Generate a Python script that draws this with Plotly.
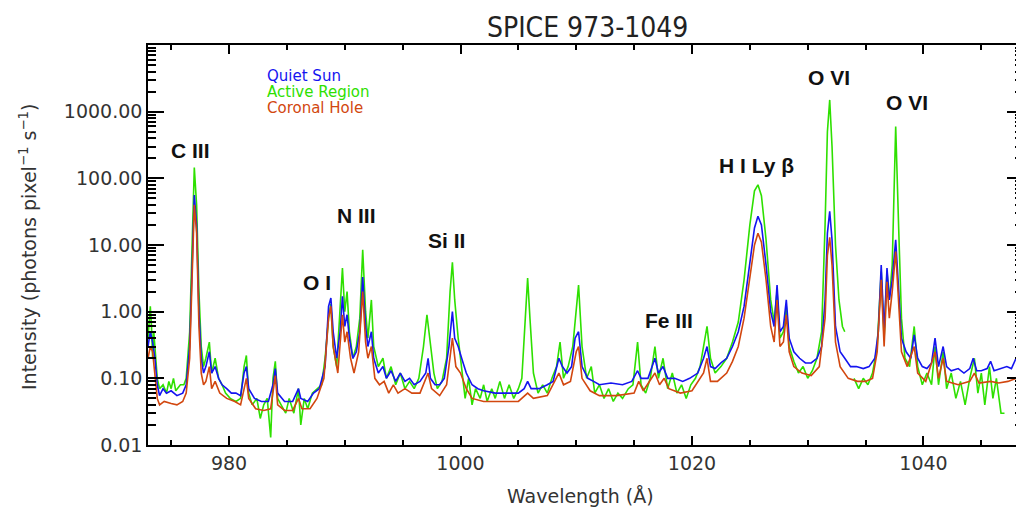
import plotly.graph_objects as go
import math

# ---------------- data ----------------
qs_wave = [973.0, 973.2, 973.4, 973.6, 973.8, 974.0, 974.3, 974.6, 975.0, 975.5, 976.0, 976.3, 976.6, 976.8, 977.0, 977.2, 977.4, 977.6, 977.8, 978.0,
           978.3, 978.5, 978.8, 979.1, 979.4, 979.8, 980.2, 980.6, 981.0, 981.3, 981.5, 981.7, 982.2, 982.8, 983.4, 983.8, 984.0, 984.2, 984.8, 985.5,
           986.0, 986.2, 986.8, 987.3, 987.8, 988.3, 988.6, 988.8, 989.0, 989.3, 989.6, 989.8, 990.0, 990.2, 990.4, 990.7, 991.0, 991.3, 991.55, 991.8,
           992.0, 992.3, 992.5, 992.9, 993.3, 993.6, 994.0, 994.4, 994.8, 995.2, 995.6, 996.0, 996.5, 997.0, 997.2, 997.4, 997.8, 998.2, 998.6, 999.0,
           999.3, 999.5, 999.8, 1000.1, 1000.5, 1001.0, 1001.5, 1002.0, 1003.0, 1004.0, 1005.0, 1005.5, 1005.8, 1006.1, 1006.8, 1007.5, 1008.0, 1008.5, 1008.8, 1009.2,
           1009.6, 1009.9, 1010.2, 1010.5, 1011.0, 1011.5, 1012.0, 1013.0, 1014.0, 1014.8, 1015.3, 1015.6, 1016.2, 1016.8, 1017.1, 1017.5, 1017.9, 1018.5, 1019.2, 1019.8,
           1020.5, 1021.0, 1021.3, 1021.6, 1022.0, 1022.5, 1023.0, 1023.5, 1024.0, 1024.5, 1025.0, 1025.4, 1025.7, 1026.0, 1026.4, 1026.8, 1027.1, 1027.35, 1027.6, 1027.9,
           1028.15, 1028.4, 1028.8, 1029.3, 1029.8, 1030.3, 1030.8, 1031.2, 1031.5, 1031.7, 1031.9, 1032.1, 1032.4, 1032.8, 1033.2, 1033.7, 1034.2, 1034.8, 1035.3, 1035.8,
           1036.1, 1036.35, 1036.6, 1036.85, 1037.05, 1037.3, 1037.6, 1037.85, 1038.1, 1038.5, 1038.9, 1039.2, 1039.5, 1039.9, 1040.3, 1040.7, 1041.0, 1041.3, 1041.7, 1042.0,
           1042.4, 1043.0, 1043.5, 1044.0, 1044.3, 1044.6, 1045.0, 1045.5, 1045.8, 1046.1, 1046.6, 1047.2, 1047.6, 1048.0, 1048.3, 1048.6]
qs_int = [0.30, 0.50, 0.35, 0.20, 0.08, 0.055, 0.07, 0.06, 0.065, 0.055, 0.06, 0.08, 0.3, 5, 56, 20, 1.0, 0.2, 0.12, 0.15,
          0.25, 0.12, 0.15, 0.10, 0.08, 0.07, 0.06, 0.06, 0.055, 0.12, 0.15, 0.07, 0.05, 0.045, 0.045, 0.08, 0.14, 0.06, 0.045, 0.045,
          0.07, 0.05, 0.045, 0.06, 0.07, 0.15, 1.2, 1.6, 0.5, 0.2, 0.5, 1.7, 0.6, 0.9, 0.4, 0.2, 0.25, 0.5, 3.3, 0.6,
          0.3, 0.5, 0.2, 0.12, 0.15, 0.1, 0.13, 0.09, 0.12, 0.09, 0.1, 0.08, 0.09, 0.12, 0.2, 0.1, 0.08, 0.08, 0.1, 0.3,
          1.0, 0.4, 0.3, 0.2, 0.12, 0.08, 0.07, 0.065, 0.06, 0.06, 0.06, 0.07, 0.09, 0.07, 0.07, 0.08, 0.09, 0.2, 0.15, 0.12,
          0.15, 0.4, 0.5, 0.15, 0.1, 0.09, 0.08, 0.085, 0.08, 0.09, 0.13, 0.1, 0.1, 0.2, 0.12, 0.15, 0.1, 0.1, 0.09, 0.1,
          0.12, 0.2, 0.3, 0.15, 0.14, 0.17, 0.2, 0.3, 0.5, 1.2, 5, 18, 27, 20, 5, 1.0, 0.6, 2.5, 0.5, 0.6,
          1.5, 0.4, 0.25, 0.2, 0.17, 0.17, 0.2, 0.3, 1.5, 15, 32, 12, 0.6, 0.25, 0.2, 0.15, 0.15, 0.14, 0.15, 0.2,
          0.5, 5, 0.5, 4.5, 1.5, 3, 12, 2, 0.4, 0.25, 0.2, 0.45, 0.2, 0.15, 0.14, 0.17, 0.4, 0.15, 0.3, 0.15,
          0.13, 0.14, 0.12, 0.14, 0.2, 0.13, 0.13, 0.14, 0.18, 0.13, 0.14, 0.15, 0.14, 0.2, 0.15, 0.15]

ar_wave = [973.0, 973.2, 973.3, 973.4, 973.5, 973.6, 973.8, 974.0, 974.3, 974.6, 974.8, 975.0, 975.2, 975.4, 975.8, 976.1, 976.3, 976.6, 976.8, 977.0,
           977.2, 977.4, 977.6, 977.8, 978.0, 978.3, 978.5, 978.8, 979.1, 979.4, 979.7, 980.1, 980.6, 981.0, 981.3, 981.5, 981.7, 982.0, 982.4, 982.7,
           983.0, 983.3, 983.6, 983.8, 984.0, 984.2, 984.5, 984.9, 985.2, 985.6, 986.0, 986.2, 986.5, 986.8, 987.2, 987.6, 988.0, 988.3, 988.6, 988.8,
           989.0, 989.3, 989.6, 989.8, 990.0, 990.2, 990.4, 990.7, 991.0, 991.3, 991.55, 991.8, 992.0, 992.3, 992.5, 992.9, 993.3, 993.6, 994.0, 994.4,
           994.8, 995.2, 995.6, 996.0, 996.4, 996.8, 997.1, 997.4, 997.7, 998.0, 998.4, 998.8, 999.1, 999.3, 999.5, 999.8, 1000.1, 1000.4, 1000.7, 1001.0,
           1001.3, 1001.7, 1002.0, 1002.3, 1002.7, 1003.0, 1003.4, 1003.8, 1004.2, 1004.6, 1005.0, 1005.3, 1005.6, 1005.8, 1006.0, 1006.3, 1006.7, 1007.1, 1007.5, 1007.9,
           1008.3, 1008.6, 1008.9, 1009.3, 1009.7, 1010.0, 1010.2, 1010.5, 1010.9, 1011.3, 1011.6, 1012.0, 1012.4, 1012.8, 1013.2, 1013.6, 1014.0, 1014.5, 1014.9, 1015.3,
           1015.6, 1016.0, 1016.4, 1016.8, 1017.1, 1017.5, 1017.9, 1018.3, 1018.7, 1019.1, 1019.5, 1019.9, 1020.3, 1020.7, 1021.0, 1021.3, 1021.6, 1022.0, 1022.5, 1023.0,
           1023.5, 1024.0, 1024.5, 1025.0, 1025.4, 1025.7, 1026.0, 1026.4, 1026.8, 1027.1, 1027.35, 1027.6, 1027.9, 1028.15, 1028.4, 1028.8, 1029.2, 1029.6, 1030.0, 1030.4,
           1030.8, 1031.2, 1031.5, 1031.7, 1031.9, 1032.1, 1032.4, 1032.7, 1033.0, 1033.2, 1033.6, 1034.0, 1034.4, 1034.8, 1035.2, 1035.6, 1036.0, 1036.35, 1036.6, 1036.85,
           1037.05, 1037.3, 1037.6, 1037.85, 1038.1, 1038.4, 1038.8, 1039.2, 1039.5, 1039.9, 1040.3, 1040.7, 1041.0, 1041.3, 1041.7, 1042.0, 1042.4, 1042.8, 1043.2, 1043.6,
           1044.0, 1044.4, 1044.7, 1045.0, 1045.3, 1045.7, 1046.0, 1046.3, 1046.7, 1047.0]
ar_int = [0.4, 1.2, 0.6, 0.2, 0.5, 0.3, 0.1, 0.07, 0.08, 0.06, 0.09, 0.07, 0.1, 0.065, 0.08, 0.08, 0.1, 0.5, 10, 145,
          40, 2, 0.3, 0.15, 0.2, 0.35, 0.12, 0.2, 0.1, 0.08, 0.06, 0.05, 0.045, 0.05, 0.15, 0.22, 0.06, 0.04, 0.05, 0.025,
          0.04, 0.05, 0.013, 0.1, 0.18, 0.05, 0.04, 0.03, 0.05, 0.03, 0.07, 0.02, 0.05, 0.035, 0.06, 0.07, 0.08, 0.2, 0.8, 1.3,
          0.3, 0.15, 1.0, 4.5, 1.0, 2.0, 0.5, 0.2, 0.3, 0.8, 8.5, 1.0, 0.4, 1.5, 0.3, 0.15, 0.2, 0.1, 0.15, 0.08,
          0.12, 0.07, 0.09, 0.07, 0.1, 0.3, 0.9, 0.3, 0.12, 0.07, 0.09, 0.2, 2, 5.5, 1.5, 0.4, 0.15, 0.05, 0.1, 0.04,
          0.07, 0.05, 0.08, 0.045, 0.07, 0.05, 0.09, 0.05, 0.08, 0.05, 0.07, 0.1, 0.8, 3.2, 0.8, 0.12, 0.06, 0.08, 0.06, 0.1,
          0.15, 0.35, 0.1, 0.15, 0.3, 1.0, 2.5, 0.3, 0.1, 0.15, 0.06, 0.08, 0.05, 0.07, 0.045, 0.06, 0.05, 0.07, 0.08, 0.35,
          0.08, 0.06, 0.1, 0.3, 0.1, 0.2, 0.07, 0.12, 0.06, 0.08, 0.05, 0.08, 0.1, 0.15, 0.3, 0.6, 0.2, 0.12, 0.15, 0.2,
          0.35, 0.7, 3, 20, 65, 80, 55, 12, 1.5, 0.7, 2, 0.4, 0.5, 1.2, 0.3, 0.18, 0.12, 0.15, 0.1, 0.13,
          0.2, 0.5, 20, 500, 1500, 300, 10, 1.5, 0.6, 0.5, None, 0.1, 0.07, 0.1, 0.08, 0.12, 0.3, 4, 0.4, 4,
          1.5, 5, 600, 20, 0.8, 0.2, 0.15, 0.6, 0.15, 0.08, 0.12, 0.08, 0.3, 0.08, 0.25, 0.07, 0.12, 0.05, 0.09, 0.04,
          0.1, 0.2, 0.06, 0.12, 0.04, 0.15, 0.05, 0.1, 0.03, 0.03]

ch_wave = [973.0, 973.2, 973.4, 973.6, 973.8, 974.0, 974.4, 975.0, 975.5, 976.0, 976.3, 976.6, 976.8, 977.0, 977.2, 977.4, 977.6, 977.8, 978.0, 978.3,
           978.5, 978.8, 979.2, 979.8, 980.5, 981.0, 981.5, 981.7, 982.3, 983.0, 983.6, 984.0, 984.2, 984.8, 985.5, 986.0, 986.3, 987.0, 987.6, 988.2,
           988.6, 988.8, 989.0, 989.4, 989.8, 990.0, 990.2, 990.5, 990.8, 991.2, 991.55, 991.8, 992.0, 992.3, 992.6, 993.0, 993.4, 993.8, 994.2, 994.6,
           995.2, 995.8, 996.5, 997.2, 997.5, 998.2, 998.8, 999.3, 999.6, 1000.0, 1000.5, 1001.0, 1002.0, 1003.0, 1004.0, 1005.0, 1005.8, 1006.3, 1007.5, 1008.5,
           1008.9, 1009.5, 1010.0, 1010.2, 1010.5, 1011.2, 1012.0, 1013.5, 1015.0, 1015.4, 1015.8, 1016.8, 1017.2, 1017.6, 1018.0, 1019.0, 1020.0, 1021.0, 1021.3, 1021.6,
           1022.2, 1023.0, 1023.5, 1024.0, 1024.5, 1025.0, 1025.4, 1025.7, 1026.0, 1026.4, 1026.8, 1027.1, 1027.35, 1027.6, 1027.9, 1028.15, 1028.4, 1028.8, 1029.5, 1030.3,
           1031.0, 1031.5, 1031.7, 1031.9, 1032.1, 1032.4, 1032.8, 1033.5, 1034.3, 1035.0, 1035.6, 1036.0, 1036.35, 1036.6, 1036.85, 1037.05, 1037.3, 1037.6, 1037.85, 1038.1,
           1038.6, 1039.2, 1039.5, 1040.2, 1041.0, 1041.3, 1041.7, 1042.0, 1043.0, 1044.0, 1044.4, 1044.8, 1045.8, 1046.5, 1047.3, 1048.0, 1048.6]
ch_int = [0.20, 0.30, 0.25, 0.12, 0.05, 0.04, 0.045, 0.042, 0.04, 0.045, 0.06, 0.2, 3, 40, 15, 0.6, 0.12, 0.08, 0.09, 0.15,
          0.07, 0.09, 0.06, 0.05, 0.045, 0.04, 0.1, 0.05, 0.035, 0.033, 0.035, 0.11, 0.04, 0.033, 0.033, 0.05, 0.035, 0.035, 0.05, 0.1,
          0.8, 1.2, 0.3, 0.12, 0.9, 0.35, 0.5, 0.2, 0.12, 0.25, 2.0, 0.35, 0.2, 0.3, 0.1, 0.08, 0.09, 0.06, 0.08, 0.06,
          0.07, 0.06, 0.06, 0.12, 0.07, 0.055, 0.08, 0.4, 0.15, 0.12, 0.07, 0.05, 0.045, 0.045, 0.045, 0.045, 0.06, 0.05, 0.055, 0.12,
          0.08, 0.09, 0.25, 0.3, 0.1, 0.065, 0.055, 0.055, 0.06, 0.09, 0.065, 0.12, 0.08, 0.1, 0.07, 0.06, 0.065, 0.12, 0.2, 0.09,
          0.09, 0.12, 0.18, 0.3, 0.8, 3, 10, 15, 11, 3, 0.6, 0.35, 1.5, 0.3, 0.35, 0.9, 0.25, 0.15, 0.12, 0.11,
          0.15, 0.8, 7, 13, 5, 0.35, 0.15, 0.1, 0.09, 0.09, 0.1, 0.25, 3, 0.3, 2.8, 0.8, 2, 8, 1.2, 0.25,
          0.15, 0.3, 0.12, 0.09, 0.25, 0.1, 0.2, 0.09, 0.08, 0.09, 0.12, 0.085, 0.09, 0.085, 0.09, 0.1, 0.1]

y_tick_vals = [0.01, 0.1, 1, 10, 100, 1000]
y_tick_text = ["0.01", "0.10", "1.00", "10.00", "100.00", "1000.00"]
x_tick_vals = [980, 1000, 1020, 1040]

line_labels = ["C III", "O I", "N III", "Si II", "Fe III", "H I Ly β", "O VI", "O VI"]
label_wave = [976.63, 987.6, 991.0, 998.75, 1018.0, 1025.6, 1031.8, 1038.6]
label_int = [266, 2.7, 28, 11.5, 0.75, 158, 3300, 1350]

series_names = ["Quiet Sun", "Active Region", "Coronal Hole"]
series_colors = ["#1414f0", "#2ee000", "#d2470f"]
chart_title = "SPICE 973-1049"
x_title = "Wavelength (Å)"
y_title = "Intensity (photons pixel<sup>−1</sup> s<sup>−1</sup>)"

# ---------------- figure ----------------
# The page body has an 8 px margin, so the figure is sized to the visible area.
W, H = 1016, 501
ML, MR, MT, MB = 140, 1, 37, 64
pw = W - ML - MR
ph = H - MT - MB

fig = go.Figure()
fig.add_trace(go.Scatter(x=ar_wave, y=ar_int, mode="lines", name=series_names[1],
                         line=dict(color=series_colors[1], width=1.6), connectgaps=False))
fig.add_trace(go.Scatter(x=qs_wave, y=qs_int, mode="lines", name=series_names[0],
                         line=dict(color=series_colors[0], width=1.6)))
fig.add_trace(go.Scatter(x=ch_wave, y=ch_int, mode="lines", name=series_names[2],
                         line=dict(color=series_colors[2], width=1.6)))

minor_y = [m * 10 ** e for e in range(-2, 4) for m in range(2, 10)]
minor_x = [v for v in range(975, 1049, 5) if v not in x_tick_vals]

tickfont = dict(family="DejaVu Sans", size=19, color="#333333")

fig.update_xaxes(range=[973, 1048.6], showgrid=False, zeroline=False, automargin=False,
                 showline=True, linecolor="black", linewidth=1.5, mirror="ticks",
                 ticks="inside", ticklen=9, tickwidth=1.5, tickcolor="black",
                 tickmode="array", tickvals=x_tick_vals, ticktext=[str(v) for v in x_tick_vals],
                 tickfont=tickfont,
                 minor=dict(tickmode="array", tickvals=minor_x, ticks="inside", ticklen=5,
                            tickwidth=1.5, tickcolor="black"))
fig.update_yaxes(type="log", range=[-2, 4], showgrid=False, zeroline=False, automargin=False,
                 showline=True, linecolor="black", linewidth=1.5, mirror="ticks",
                 ticks="inside", ticklen=16, tickwidth=1.5, tickcolor="black",
                 tickmode="array", tickvals=y_tick_vals, ticktext=y_tick_text,
                 tickfont=tickfont,
                 minor=dict(tickmode="array", tickvals=minor_y, ticks="inside", ticklen=8,
                            tickwidth=1.5, tickcolor="black"))

for txt, wv, iv in zip(line_labels, label_wave, label_int):
    fig.add_annotation(x=wv, y=math.log10(iv), xref="x", yref="y", text="<b>%s</b>" % txt,
                       showarrow=False, font=dict(family="Liberation Sans", size=21, color="#111111"))

for i, (nm, col) in enumerate(zip(series_names, series_colors)):
    fig.add_annotation(x=(265 - 148) / pw, y=1 - (76 + 16 * i - 45) / ph, xref="paper", yref="paper",
                       text=nm, showarrow=False, xanchor="left", yanchor="middle",
                       font=dict(family="DejaVu Sans", size=15, color=col))

# title and axis titles as annotations placed outside the plot frame
fig.add_annotation(x=(579 - ML) / pw, y=1 + (MT - 19) / ph, xref="paper", yref="paper",
                   text=chart_title, showarrow=False, xanchor="center", yanchor="middle",
                   font=dict(family="DejaVu Sans Condensed", size=28, color="#222222"))
fig.add_annotation(x=(572 - ML) / pw, y=-(488 - (H - MB)) / ph, xref="paper", yref="paper",
                   text=x_title, showarrow=False, xanchor="center", yanchor="middle",
                   font=dict(family="DejaVu Sans", size=19, color="#333333"))
fig.add_annotation(x=(20 - ML) / pw, y=0.5 + (237 - 239) / ph, xref="paper", yref="paper",
                   text=y_title, showarrow=False, xanchor="center", yanchor="middle", textangle=-90,
                   font=dict(family="DejaVu Sans", size=19, color="#333333"))

fig.update_layout(width=W, height=H, margin=dict(l=ML, r=MR, t=MT, b=MB),
                  paper_bgcolor="white", plot_bgcolor="white", showlegend=False)

fig.write_html("out.html")
